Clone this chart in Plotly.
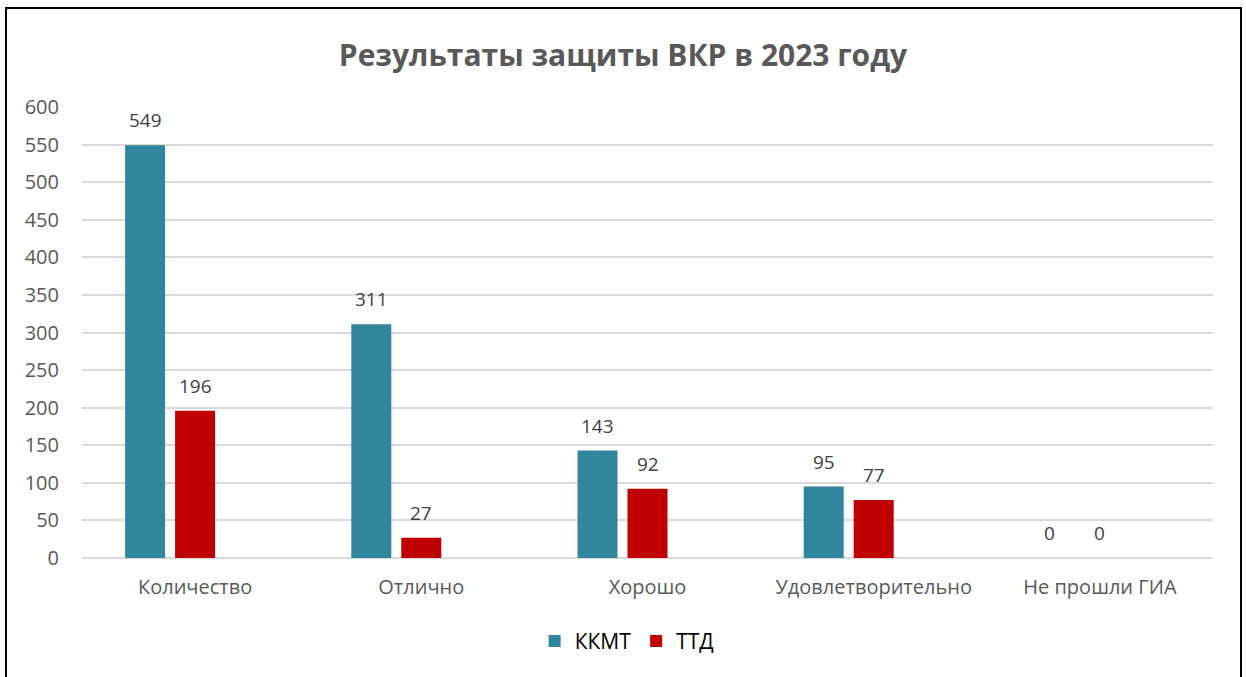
import plotly.graph_objects as go

categories = ["Количество", "Отлично", "Хорошо", "Удовлетворительно", "Не прошли ГИА"]
kkmt = [549, 311, 143, 95, 0]
ttd = [196, 27, 92, 77, 0]
series_names = ["ККМТ", "ТТД"]
colors = ["#31859C", "#C00000"]
y_ticks = list(range(0, 601, 50))

FONT = "Open Sans"
bar_w = 40 / 226.2
offsets = [-70 / 226.2, -20 / 226.2]

fig = go.Figure()
for name, vals, col, off in zip(series_names, [kkmt, ttd], colors, offsets):
    fig.add_trace(go.Bar(
        x=categories, y=vals, name=name, marker_color=col,
        marker_line_width=0, width=bar_w, offset=off,
    ))

annotations = []
for vals, off in zip([kkmt, ttd], offsets):
    for i, v in enumerate(vals):
        annotations.append(dict(
            x=i + off + bar_w / 2, y=v, xref="x", yref="y", text=str(v),
            showarrow=False, yshift=25, font=dict(family=FONT, size=19, color="#404040"),
        ))

fig.update_layout(
    width=1246, height=677, autosize=False,
    margin=dict(l=82, r=33, t=107, b=119),
    paper_bgcolor="white", plot_bgcolor="white",
    title=dict(text="<b>Результаты защиты ВКР в 2023 году</b>", x=0.5, xanchor="center",
               y=1 - 55 / 677, yanchor="middle",
               font=dict(family=FONT, size=30, color="#595959")),
    barmode="overlay",
    showlegend=True,
    legend=dict(orientation="h", x=0.482, xanchor="center", y=-0.185, yanchor="middle",
                font=dict(family=FONT, size=21, color="#000000"), itemwidth=30,
                traceorder="normal"),
    annotations=annotations,
    xaxis=dict(type="category", range=[-0.5, 4.5], showgrid=False, showline=False,
               ticks="", tickfont=dict(family=FONT, size=20, color="#595959"),
               ticklabelstandoff=15),
    yaxis=dict(range=[0, 600], tickvals=y_ticks, showgrid=True, gridcolor="#D9D9D9",
               gridwidth=1.5, zeroline=True, zerolinecolor="#D9D9D9", zerolinewidth=1.5,
               showline=False, ticks="", tickfont=dict(family=FONT, size=20, color="#595959"),
               ticklabelstandoff=22),
    shapes=[dict(type="rect", xref="paper", yref="paper",
                 x0=(6 - 82) / 1131, x1=(1241 - 82) / 1131,
                 y0=(558 - 690) / 451, y1=(558 - 8) / 451,
                 line=dict(color="#000000", width=2), layer="above")],
)

fig.write_html("out.html", config={"displayModeBar": False},
               post_script="document.body.style.margin='0';")
